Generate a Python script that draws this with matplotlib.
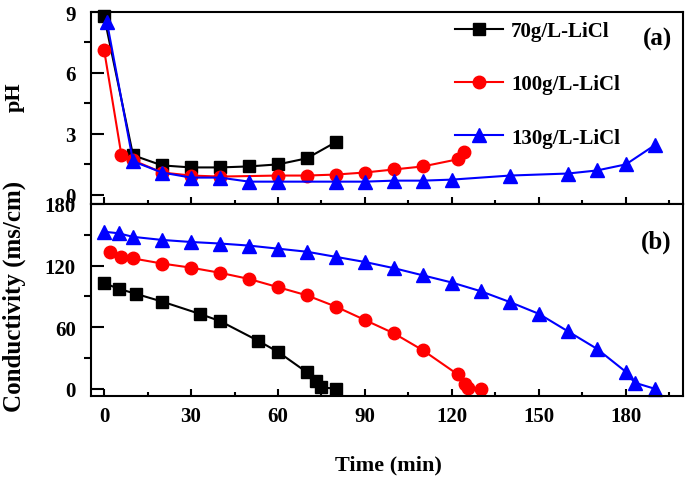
import matplotlib
matplotlib.use("Agg")
import matplotlib.pyplot as plt
from matplotlib.ticker import MultipleLocator

plt.rcParams['font.family'] = ['Liberation Serif', 'DejaVu Serif']
plt.rcParams['font.weight'] = 'bold'

labels = ['70g/L-LiCl', '100g/L-LiCl', '130g/L-LiCl']
colors = ['black', 'red', 'blue']
markers = ['s', 'o', '^']
msizes = [8, 9, 9.5]

# pH data
t_ph_70 = [0, 10, 20, 30, 40, 50, 60, 70, 80]
ph_70 = [8.8, 1.95, 1.45, 1.35, 1.35, 1.4, 1.5, 1.8, 2.6]
t_ph_100 = [0, 6, 10, 20, 30, 40, 60, 70, 80, 90, 100, 110, 122, 124]
ph_100 = [7.15, 1.95, 1.7, 1.1, 0.95, 0.9, 0.95, 0.95, 1.0, 1.1, 1.25, 1.4, 1.75, 2.1]
t_ph_130 = [1, 10, 20, 30, 40, 50, 60, 80, 90, 100, 110, 120, 140, 160, 170, 180, 190]
ph_130 = [8.5, 1.65, 1.1, 0.85, 0.85, 0.65, 0.65, 0.65, 0.65, 0.7, 0.7, 0.75, 0.95, 1.05, 1.2, 1.5, 2.45]

# Conductivity data
t_c_70 = [0, 5, 11, 20, 33, 40, 53, 60, 70, 73, 75, 80]
c_70 = [103, 97.5, 92.5, 85, 73, 66, 47, 36, 16, 8, 1.5, 0]
t_c_100 = [2, 6, 10, 20, 30, 40, 50, 60, 70, 80, 90, 100, 110, 122, 124.5, 125.5, 130]
c_100 = [133, 128, 127, 122, 118, 113, 107, 99, 91, 80, 67, 54, 37.5, 14, 5, 0.5, 0]
t_c_130 = [0, 5, 10, 20, 30, 40, 50, 60, 70, 80, 90, 100, 110, 120, 130, 140, 150, 160, 170, 180, 183, 190]
c_130 = [153, 151.5, 148, 145, 143, 141.5, 139.5, 136.5, 133.5, 128.5, 123.5, 117.5, 110.5, 103.5, 95, 84.5, 73, 56, 39, 16.5, 6, 0]

fig = plt.figure(figsize=(6.85, 4.85), dpi=100)
W, H = 685, 485
left, right = 91, 683
ax1 = fig.add_axes([left / W, 1 - 205 / H, (right - left) / W, 192 / H])
ax2 = fig.add_axes([left / W, 1 - 397 / H, (right - left) / W, 192 / H])

ph_t = [t_ph_70, t_ph_100, t_ph_130]
ph_v = [ph_70, ph_100, ph_130]
c_t = [t_c_70, t_c_100, t_c_130]
c_v = [c_70, c_100, c_130]

for i in range(3):
    ax1.plot(ph_t[i], ph_v[i], color=colors[i], marker=markers[i], ms=msizes[i],
             lw=1.5, label=labels[i], clip_on=False)
    ax2.plot(c_t[i], c_v[i], color=colors[i], marker=markers[i], ms=msizes[i],
             lw=1.5, label=labels[i], clip_on=False)

for ax in (ax1, ax2):
    ax.set_xlim(-4.5, 199.7)
    ax.xaxis.set_major_locator(MultipleLocator(30))
    ax.xaxis.set_minor_locator(MultipleLocator(15))
    for s in ax.spines.values():
        s.set_linewidth(1.5)
    ax.tick_params(axis='x', which='major', direction='in', length=5, width=1.5,
                   top=False, labelsize=15, pad=7)
    ax.tick_params(axis='x', which='minor', direction='in', length=3, width=1.5, top=False)
    ax.tick_params(axis='y', which='major', direction='in', length=9, width=1.5,
                   right=False, labelsize=15, pad=11)
    ax.tick_params(axis='y', which='minor', direction='out', length=5, width=1.5, right=False)

ax1.set_ylim(-0.45, 9)
ax1.yaxis.set_major_locator(MultipleLocator(3))
ax1.yaxis.set_minor_locator(MultipleLocator(1.5))
ax1.tick_params(axis='x', labelbottom=False)

ax2.set_ylim(-7, 180)
ax2.yaxis.set_major_locator(MultipleLocator(60))
ax2.yaxis.set_minor_locator(MultipleLocator(30))

fig.text(15 / W, 1 - 97 / H, 'pH', rotation=90, ha='center', va='center', fontsize=16, fontweight='bold')
fig.text(14 / W, 1 - 296 / H, 'Conductivity (ms/cm)', rotation=90, ha='center', va='center',
         fontsize=18, fontweight='bold')
fig.text(388 / W, 1 - 465 / H, 'Time (min)', ha='center', va='center', fontsize=16, fontweight='bold')

fig.text(658 / W, 1 - 39 / H, '(a)', ha='center', va='center', fontsize=18, fontweight='bold')
fig.text(656 / W, 1 - 242 / H, '(b)', ha='center', va='center', fontsize=18, fontweight='bold')

ax1.legend(loc='upper left', bbox_to_anchor=(455 / W, 1 - 22 / H), bbox_transform=fig.transFigure,
           frameon=False, fontsize=15, borderpad=0, borderaxespad=0, handlelength=2.3,
           handletextpad=0.4, labelspacing=1.6)

fig.savefig('out.png', dpi=100)
